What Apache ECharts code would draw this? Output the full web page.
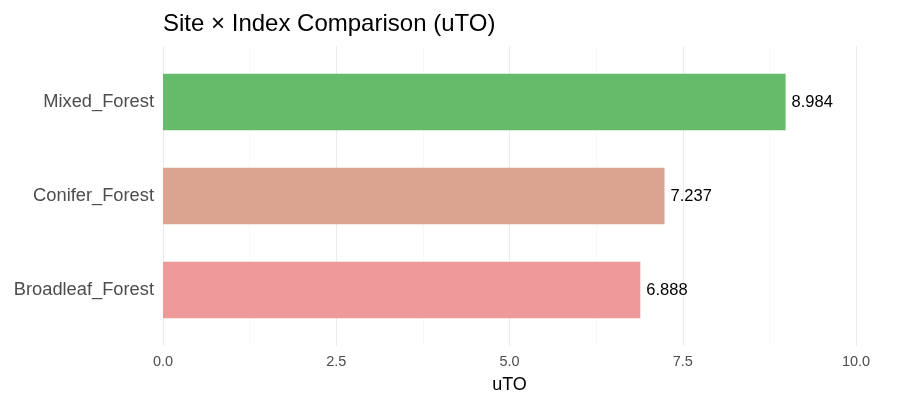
<!DOCTYPE html>
<html>
<head>
<meta charset="utf-8">
<script src="https://cdn.jsdelivr.net/npm/echarts@6/dist/echarts.min.js"></script>
<style>
  html, body { margin: 0; padding: 0; background: #fff; }
  #chart { width: 912px; height: 408px; }
</style>
</head>
<body>
<div id="chart"></div>
<script>
const sites = ['Broadleaf_Forest', 'Conifer_Forest', 'Mixed_Forest']
const uto = [6.888, 7.237, 8.984]
const barColors = ['#ef9a9a', '#dba491', '#66bb6a']
const xTicks = [0, 2.5, 5, 7.5, 10]

const font = 'Liberation Sans, Arial, sans-serif'
const chart = echarts.init(document.getElementById('chart'), null, { renderer: 'canvas' })

chart.setOption({
  animation: false,
  title: {
    text: 'Site × Index Comparison (uTO)',
    left: 158, top: 7,
    textStyle: { fontFamily: font, fontSize: 24, fontWeight: 'normal', color: '#000' }
  },
  grid: [
    // bars
    { left: 163, right: 56, top: 55, height: 282 },
    // background grid lines, slightly taller like ggplot's expansion
    { left: 163, right: 56, top: 46, height: 300 }
  ],
  xAxis: [
    {
      type: 'value', gridIndex: 0, min: 0, max: 10, interval: 2.5,
      axisLine: { show: false }, axisTick: { show: false },
      axisLabel: { show: false }, splitLine: { show: false }
    },
    {
      type: 'value', gridIndex: 1, min: 0, max: 10, interval: 2.5,
      name: 'uTO', nameLocation: 'middle', nameGap: 30,
      nameTextStyle: { fontFamily: font, fontSize: 18, color: '#000' },
      axisLine: { show: false }, axisTick: { show: false },
      axisLabel: {
        fontFamily: font, fontSize: 14.5, color: '#4d4d4d', margin: 8,
        formatter: v => xTicks.includes(v) ? v.toFixed(1) : ''
      },
      splitLine: { show: true, lineStyle: { color: '#ebebeb', width: 1.1 } },
      minorTick: { show: false, splitNumber: 2 },
      minorSplitLine: { show: true, lineStyle: { color: '#f4f4f4', width: 0.6 } }
    }
  ],
  yAxis: [
    {
      type: 'category', gridIndex: 0, data: sites,
      axisLine: { show: false }, axisTick: { show: false },
      axisLabel: { fontFamily: font, fontSize: 18.3, color: '#4d4d4d', margin: 9 },
      splitLine: { show: false }
    },
    {
      type: 'value', gridIndex: 1, min: 0, max: 1,
      show: false
    }
  ],
  series: [
    {
      type: 'bar',
      xAxisIndex: 0, yAxisIndex: 0,
      barWidth: '60%',
      data: uto.map((v, i) => ({ value: v, itemStyle: { color: barColors[i] } })),
      label: {
        show: true, position: 'right', distance: 6,
        fontFamily: font, fontSize: 16.5, color: '#000',
        formatter: p => p.value.toFixed(3)
      }
    }
  ]
})
</script>
</body>
</html>
